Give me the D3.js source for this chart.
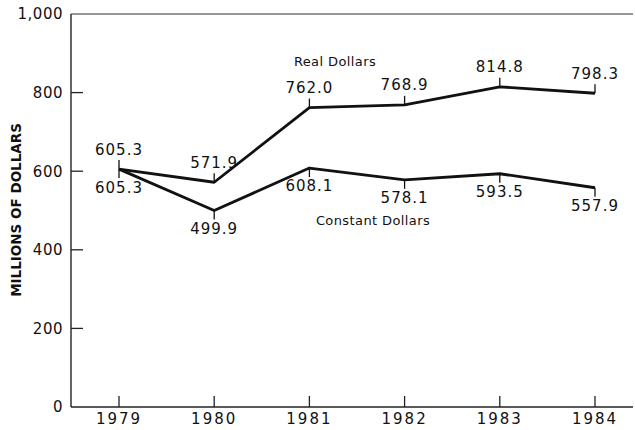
<!DOCTYPE html>
<html>
<head>
<meta charset="utf-8">
<script src="https://cdn.jsdelivr.net/npm/d3@7"></script>
<style>
  body { margin: 0; background: #fff; }
  text { font-family: "DejaVu Sans", sans-serif; fill: #111; }
</style>
</head>
<body>
<script>
// values
let years = [1979, 1980, 1981, 1982, 1983, 1984];
let realDollars = [605.3, 571.9, 762.0, 768.9, 814.8, 798.3];
let constantDollars = [605.3, 499.9, 608.1, 578.1, 593.5, 557.9];
let yTicks = [0, 200, 400, 600, 800, 1000];

let width = 635, height = 430;

let svg = d3.select('body').append('svg')
    .attr('width', width)
    .attr('height', height);

let x = d3.scalePoint()
    .domain(years)
    .range([119, 595]);

let y = d3.scaleLinear()
    .domain([0, 1000])
    .range([407, 14]);

let axisLeft = 71, axisRight = 633;

// frame: left axis, bottom axis, top line
svg.append('line')
    .attr('x1', axisLeft).attr('x2', axisLeft)
    .attr('y1', y(1000)).attr('y2', y(0))
    .attr('stroke', '#222').attr('stroke-width', 1.4);
svg.append('line')
    .attr('x1', axisLeft).attr('x2', axisRight)
    .attr('y1', y(0)).attr('y2', y(0))
    .attr('stroke', '#222').attr('stroke-width', 1.4);
svg.append('line')
    .attr('x1', axisLeft).attr('x2', axisRight)
    .attr('y1', y(1000)).attr('y2', y(1000))
    .attr('stroke', '#333').attr('stroke-width', 1.2);

// y ticks (pointing inward)
let yt = svg.append('g');
yt.selectAll('line')
    .data(yTicks.filter(d => d > 0 && d < 1000))
    .enter().append('line')
    .attr('x1', axisLeft).attr('x2', axisLeft + 12)
    .attr('y1', d => y(d)).attr('y2', d => y(d))
    .attr('stroke', '#222').attr('stroke-width', 1.3);
yt.selectAll('text')
    .data(yTicks)
    .enter().append('text')
    .attr('x', axisLeft - 8)
    .attr('y', d => y(d))
    .attr('dy', '0.36em')
    .attr('text-anchor', 'end')
    .style('font-size', '15px')
    .style('letter-spacing', '0.5px')
    .text(d => d3.format(',')(d));

// x ticks (pointing inward)
let xt = svg.append('g');
xt.selectAll('line')
    .data(years)
    .enter().append('line')
    .attr('x1', d => x(d)).attr('x2', d => x(d))
    .attr('y1', y(0)).attr('y2', y(0) - 11)
    .attr('stroke', '#222').attr('stroke-width', 1.3);
xt.selectAll('text')
    .data(years)
    .enter().append('text')
    .attr('x', d => x(d))
    .attr('y', y(0) + 17)
    .attr('text-anchor', 'middle')
    .style('font-size', '15px')
    .style('letter-spacing', '2px')
    .text(d => d);

// y axis title
svg.append('text')
    .attr('transform', `translate(21, 210) rotate(-90)`)
    .attr('text-anchor', 'middle')
    .style('font-size', '13.5px')
    .style('font-weight', '600')
    .text('MILLIONS OF DOLLARS');

let line = d3.line()
    .x((d, i) => x(years[i]))
    .y(d => y(d));

let series = [
    {name: 'real', values: realDollars, dir: -1, off: 20},
    {name: 'constant', values: constantDollars, dir: 1, off: 18}
];

series.forEach(s => {
    let g = svg.append('g').attr('class', s.name);
    g.append('path')
        .datum(s.values)
        .attr('d', line)
        .attr('fill', 'none')
        .attr('stroke', '#111')
        .attr('stroke-width', 2.8)
        .attr('stroke-linejoin', 'round');
    // small marker ticks at each point
    g.selectAll('line')
        .data(s.values)
        .enter().append('line')
        .attr('x1', (d, i) => x(years[i])).attr('x2', (d, i) => x(years[i]))
        .attr('y1', d => y(d)).attr('y2', d => y(d) + s.dir * 9)
        .attr('stroke', '#111').attr('stroke-width', 1.3);
    g.selectAll('text')
        .data(s.values)
        .enter().append('text')
        .attr('x', (d, i) => x(years[i]))
        .attr('y', d => y(d) + s.dir * s.off)
        .attr('dy', '0.36em')
        .attr('text-anchor', 'middle')
        .style('font-size', '15px')
        .style('letter-spacing', '1px')
        .text(d => d.toFixed(1));
});

// series names
svg.append('text')
    .attr('x', 335).attr('y', y(880))
    .attr('dy', '0.36em')
    .attr('text-anchor', 'middle')
    .style('font-size', '13px')
    .style('letter-spacing', '0.4px')
    .text('Real Dollars');
svg.append('text')
    .attr('x', 373).attr('y', y(475))
    .attr('dy', '0.36em')
    .attr('text-anchor', 'middle')
    .style('font-size', '13px')
    .style('letter-spacing', '0.4px')
    .text('Constant Dollars');
</script>
</body>
</html>
